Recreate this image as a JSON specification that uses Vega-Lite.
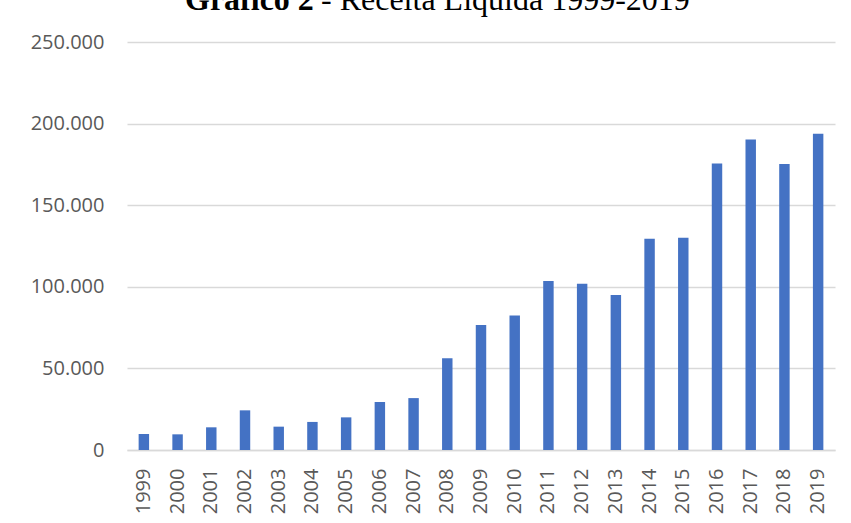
{
  "$schema": "https://vega.github.io/schema/vega-lite/v6.json",
  "width": 708,
  "height": 408,
  "autosize": {"type": "none"},
  "padding": {"left": 127, "top": 42, "right": 16, "bottom": 73},
  "background": "white",
  "title": {
    "text": "Gráfico 2",
    "subtitle": "\u200b\u00a0\u00a0\u00a0\u00a0\u00a0\u00a0\u00a0\u00a0\u00a0\u00a0\u00a0\u00a0\u00a0\u00a0\u00a0\u00a0\u00a0- Receita Líquida 1999-2019",
    "anchor": "start",
    "frame": "group",
    "dx": 58,
    "offset": 15,
    "font": "Liberation Serif",
    "fontSize": 32,
    "fontWeight": "bold",
    "color": "black",
    "subtitleFont": "Liberation Serif",
    "subtitleFontSize": 32,
    "subtitleFontWeight": "normal",
    "subtitleColor": "black",
    "subtitlePadding": -32
  },
  "data": {
    "values": [
      {"ano": "1999", "receita": 9800},
      {"ano": "2000", "receita": 9600},
      {"ano": "2001", "receita": 13900},
      {"ano": "2002", "receita": 24300},
      {"ano": "2003", "receita": 14300},
      {"ano": "2004", "receita": 17200},
      {"ano": "2005", "receita": 20000},
      {"ano": "2006", "receita": 29400},
      {"ano": "2007", "receita": 31800},
      {"ano": "2008", "receita": 56200},
      {"ano": "2009", "receita": 76600},
      {"ano": "2010", "receita": 82400},
      {"ano": "2011", "receita": 103500},
      {"ano": "2012", "receita": 101800},
      {"ano": "2013", "receita": 94900},
      {"ano": "2014", "receita": 129400},
      {"ano": "2015", "receita": 130000},
      {"ano": "2016", "receita": 175600},
      {"ano": "2017", "receita": 190300},
      {"ano": "2018", "receita": 175200},
      {"ano": "2019", "receita": 193800}
    ]
  },
  "mark": {"type": "bar", "color": "#4472C4"},
  "encoding": {
    "x": {
      "field": "ano",
      "type": "nominal",
      "sort": null,
      "scale": {"paddingInner": 0.69, "paddingOuter": 0.345},
      "axis": {
        "title": null,
        "labelAngle": -90,
        "labelAlign": "right",
        "labelBaseline": "middle",
        "labelFont": "Open Sans",
        "labelFontSize": 20,
        "labelColor": "#595959",
        "labelPadding": 18,
        "ticks": false,
        "domainColor": "#d9d9d9",
        "domainWidth": 1.5,
        "grid": false
      }
    },
    "y": {
      "field": "receita",
      "type": "quantitative",
      "scale": {"domain": [0, 250000], "nice": false},
      "axis": {
        "title": null,
        "values": [0, 50000, 100000, 150000, 200000, 250000],
        "format": ",d",
        "labelFont": "Open Sans",
        "labelFontSize": 20,
        "labelColor": "#595959",
        "labelPadding": 23,
        "ticks": false,
        "domain": false,
        "grid": true,
        "gridColor": "#d9d9d9",
        "gridWidth": 1.5
      }
    }
  },
  "config": {
    "view": {"stroke": null},
    "locale": {
      "number": {
        "decimal": ",",
        "thousands": ".",
        "grouping": [3],
        "currency": ["R$", ""]
      }
    }
  }
}
